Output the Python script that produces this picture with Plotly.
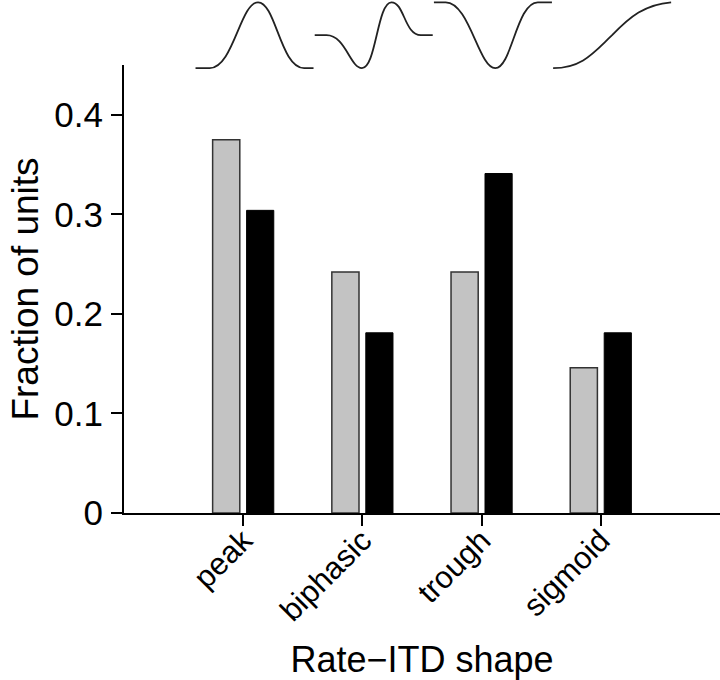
import plotly.graph_objects as go

categories = ["peak", "biphasic", "trough", "sigmoid"]
gray_values = [0.375, 0.242, 0.242, 0.146]
black_values = [0.304, 0.181, 0.341, 0.181]
y_tick_vals = [0, 0.1, 0.2, 0.3, 0.4]
y_tick_text = ["0", "0.1", "0.2", "0.3", "0.4"]

FONT = "Liberation Sans, Arial, sans-serif"

fig = go.Figure()
fig.add_trace(go.Bar(x=list(range(len(categories))), y=gray_values,
                     marker=dict(color="#c3c3c3", line=dict(color="#333333", width=1.5)),
                     showlegend=False))
fig.add_trace(go.Bar(x=list(range(len(categories))), y=black_values,
                     marker=dict(color="#000000", line=dict(color="#000000", width=1)),
                     showlegend=False))

# schematic icons of each rate-ITD shape (normalized bezier paths, u in [0,1], v in [0,1])
icon_paths = [
    [("M", [(0, 0)]), ("L", [(0.12, 0)]), ("C", [(0.32, 0), (0.38, 1), (0.53, 1)]),
     ("C", [(0.68, 1), (0.72, 0), (0.92, 0)]), ("L", [(1, 0)])],
    [("M", [(0, 0.5)]), ("L", [(0.1, 0.5)]), ("C", [(0.26, 0.5), (0.3, 0), (0.4, 0)]),
     ("C", [(0.52, 0), (0.53, 1), (0.65, 1)]), ("C", [(0.76, 1), (0.76, 0.5), (0.9, 0.5)]),
     ("L", [(1, 0.5)])],
    [("M", [(0, 1)]), ("L", [(0.1, 1)]), ("C", [(0.3, 1), (0.38, 0), (0.52, 0)]),
     ("C", [(0.66, 0), (0.7, 1), (0.88, 1)]), ("L", [(1, 1)])],
    [("M", [(0, 0)]), ("C", [(0.25, 0), (0.35, 0.25), (0.5, 0.5)]),
     ("C", [(0.65, 0.78), (0.78, 0.97), (1, 1)])],
]

def build_path(segs, x0, w, y0, h):
    parts = []
    for cmd, pts in segs:
        coords = " ".join(f"{x0 + u * w:.4f},{y0 + v * h:.4f}" for u, v in pts)
        parts.append(f"{cmd} {coords}")
    return " ".join(parts)

shapes = []
for i, segs in enumerate(icon_paths):
    shapes.append(dict(type="path", xref="x", yref="paper",
                       path=build_path(segs, i - 0.40, 0.99, 0.993, 0.147),
                       line=dict(color="#222222", width=1.8)))

fig.update_layout(
    width=720, height=680,
    margin=dict(l=124, r=0, t=65, b=167),
    paper_bgcolor="white", plot_bgcolor="white",
    barmode="group", bargap=0.43, bargroupgap=0.2,
    font=dict(family=FONT, color="#000000", size=31),
    shapes=shapes,
    xaxis=dict(range=[-1, 4], tickmode="array", tickvals=list(range(len(categories))),
               ticktext=categories, tickangle=-45, showline=True, linecolor="#000",
               linewidth=2, ticks="outside", ticklen=11, tickwidth=2, tickcolor="#000",
               showgrid=False, zeroline=False, tickfont=dict(size=31), automargin=False,
               ticklabelstandoff=-16,
               title=dict(text="Rate\u2212ITD shape", font=dict(size=36), standoff=22)),
    yaxis=dict(range=[0, 0.45], tickmode="array", tickvals=y_tick_vals, ticktext=y_tick_text,
               showline=True, linecolor="#000", linewidth=2, ticks="outside", ticklen=11,
               tickwidth=2, tickcolor="#000", showgrid=False, zeroline=False, automargin=False,
               tickfont=dict(size=35), ticklabelstandoff=1,
               title=dict(text="Fraction of units", font=dict(size=37), standoff=4)),
)

fig.write_html("out.html", post_script="document.body.style.margin='0';",
               config={"displayModeBar": False})
